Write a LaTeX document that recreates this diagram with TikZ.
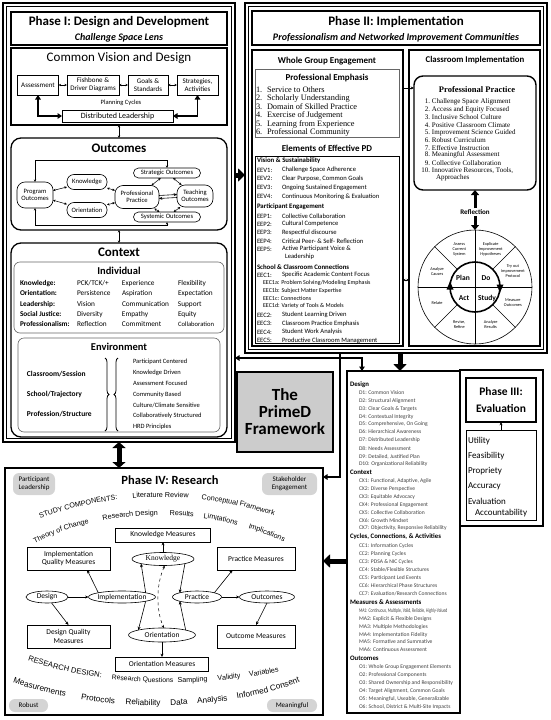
\documentclass[tikz,border=0pt]{standalone}
\usepackage{fontspec}
\setmainfont{Carlito}
\newfontfamily\tnr{Liberation Serif}
\newfontfamily\arl{Liberation Sans}
\usetikzlibrary{arrows.meta,shapes.geometric,decorations.pathreplacing,decorations.text,calc}
\newcommand\fsz[2]{\fontsize{#1}{#2}\selectfont}
\newcommand\afA{\arl\fontsize{7.2}{8}\selectfont}
\newcommand\afB{\arl\fontsize{6.8}{8}\selectfont}
\newcommand\afBb{\arl\fontsize{7.2}{8}\selectfont}
\newcommand\afBc{\arl\fontsize{7.6}{8}\selectfont}
\newcommand\afC{\arl\fontsize{8.2}{9}\selectfont}
\begin{document}
\begin{tikzpicture}[x=1pt,y=-1pt,
  every node/.style={inner sep=0pt,outer sep=0pt},
  frm/.style={draw,line width=1.3pt},
  sb/.style={draw,line width=0.6pt,align=center,font=\fsz{7}{7.8}},
  op/.style={draw,line width=0.6pt,align=center,font=\fsz{6.6}{7.4}},
  lft/.style={anchor=west},
  dbl/.style={{Stealth[length=2.6pt,width=2.4pt]}-{Stealth[length=2.6pt,width=2.4pt]},line width=0.5pt},
  sarr/.style={-{Stealth[length=3.4pt,width=3pt]},line width=0.6pt},
  tdbl/.style={{Triangle[length=4.5pt,width=5.5pt]}-{Triangle[length=4.5pt,width=5.5pt]},line width=1.4pt},
  tarr/.style={-{Triangle[length=4.5pt,width=5.5pt]},line width=1.4pt},
  big/.style={-{Triangle[length=7pt,width=13pt]},line width=5pt},
  bigd/.style={{Triangle[length=6pt,width=13pt]}-{Triangle[length=6pt,width=13pt]},line width=5pt},
  ell/.style={draw,ellipse,line width=0.6pt,font=\fsz{7.5}{8}},
  mb/.style={draw,line width=0.6pt,align=center,font=\fsz{7.5}{8.6}},
  gp/.style={fill=black!17,rounded corners=6pt,align=center,font=\fsz{7}{8.2}},
  itm/.style={anchor=west,font=\fsz{5.6}{6},text=black!75},
  hdg/.style={anchor=west,font=\bfseries\fsz{6.8}{7}},
  eitm/.style={anchor=west,font=\fsz{6.6}{7}},
  atx/.style n args={3}{decorate,decoration={text along path,text={|#1|#2},text align={left indent=#3}}},
]
\useasboundingbox (0,0) rectangle (550,720);

% ================= Phase I =================
\node[draw,line width=1.6pt,minimum width=232pt,minimum height=439pt] (p1) at (119,222.5) {};
\draw[line width=0.6pt] (6.5,6.5) rectangle (231.5,438.5);
\node[frm,minimum width=216pt,minimum height=33pt] (h1) at (119,28.5) {};
\node[font=\bfseries\fsz{13}{15}] (h1a) at (119,22) {Phase I: Design and Development};
\node[font=\bfseries\itshape\fsz{10}{12}] (h1b) at (119,38) {Challenge Space Lens};

\node[frm,minimum width=216pt,minimum height=77pt] (cv) at (119,86.5) {};
\node[font=\fsz{13}{15}] (cvt) at (119,58.5) {Common Vision and Design};
\node[sb,minimum width=41pt,minimum height=20pt] (as1) at (38,85) {Assessment};
\node[sb,minimum width=52pt,minimum height=20pt] (fb) at (93,85) {Fishbone \&\\Driver Diagrams};
\node[sb,minimum width=40pt,minimum height=20pt] (gs) at (148,85) {Goals \&\\Standards};
\node[sb,minimum width=41pt,minimum height=20pt] (sa) at (197.5,85) {Strategies,\\Activities};
\node[font=\fsz{6.5}{7}] (plc) at (121,103) {Planning Cycles};
\node[sb,font=\fsz{8}{9},minimum width=111pt,minimum height=12pt] (dl) at (117.5,116) {Distributed Leadership};

\node[frm,rounded corners=10pt,minimum width=216pt,minimum height=92pt] (oc) at (119,184) {};
\node[font=\bfseries\fsz{13}{15}] (oct) at (119,148) {Outcomes};
\node[op,rounded corners=8pt,minimum width=36pt,minimum height=26pt] (po) at (35,195) {Program\\Outcomes};
\node[op,rounded corners=7pt,minimum width=40pt,minimum height=15pt] (kn) at (87,182) {Knowledge};
\node[op,rounded corners=7pt,minimum width=40pt,minimum height=15pt] (or) at (87,210) {Orientation};
\node[op,rounded corners=8pt,minimum width=44pt,minimum height=23pt] (pp) at (137,197) {Professional\\Practice};
\node[op,rounded corners=5pt,minimum width=67pt,minimum height=10pt] (so) at (167,173) {Strategic Outcomes};
\node[op,rounded corners=8pt,minimum width=36pt,minimum height=22pt] (to) at (195,196) {Teaching\\Outcomes};
\node[op,rounded corners=5pt,minimum width=67pt,minimum height=10pt] (sy) at (167,217) {Systemic Outcomes};

\node[frm,rounded corners=10pt,minimum width=216pt,minimum height=194pt] (cx) at (119,340) {};
\node[font=\bfseries\fsz{13}{15}] (cxt) at (119,252.5) {Context};
\node[draw=black!60,line width=0.6pt,rounded corners=6pt,minimum width=210pt,minimum height=71pt] (ind) at (119,297.5) {};
\node[font=\bfseries\fsz{10.5}{12}] (indt) at (119,271) {Individual};
\node[anchor=north west,font=\fsz{7.3}{10.4}] (indtab) at (20,278) {\begin{tabular}{@{}p{57pt}@{}p{45pt}@{}p{56pt}@{}l@{}}
\textbf{Knowledge:} & PCK/TCK/+ & Experience & Flexibility\\
\textbf{Orientation:} & Persistence & Aspiration & Expectation\\
\textbf{Leadership:} & Vision & Communication & Support\\
\textbf{Social Justice:} & Diversity & Empathy & Equity\\
\textbf{Professionalism:} & Reflection & Commitment & {\fsz{6.6}{10.4}Collaboration}
\end{tabular}};
\node[draw=black!60,line width=0.6pt,rounded corners=6pt,minimum width=202pt,minimum height=94pt] (env) at (119,385) {};
\node[font=\bfseries\fsz{10.5}{12}] (envt) at (119,347) {Environment};
\node[lft,font=\bfseries\fsz{7.5}{9}] (el1) at (27,374) {Classroom/Session};
\node[lft,font=\bfseries\fsz{7.5}{9}] (el2) at (27,394) {School/Trajectory};
\node[lft,font=\bfseries\fsz{7.5}{9}] (el3) at (27,414) {Profession/Structure};
\draw[decorate,decoration={brace,amplitude=4pt},line width=0.8pt] (105,358) -- (105,431);
\draw[decorate,decoration={brace,amplitude=4pt},line width=0.8pt] (118,431) -- (118,358);
\foreach \t [count=\i] in {Participant Centered,Knowledge Driven,Assessment Focused,Community Based,Culture/Climate Sensitive,Collaboratively Structured,HRD Principles}
  \node[lft,font=\fsz{6.5}{7}] (er\i) at (133,{351.2+10.8*\i}) {\t};

% ================= Phase II =================
\node[draw,line width=1.6pt,minimum width=302pt,minimum height=350pt] (p2) at (396,178) {};
\draw[line width=0.6pt] (248.5,6.5) rectangle (543.5,349.5);
\node[frm,minimum width=288pt,minimum height=34pt] (h2) at (396,28) {};
\node[font=\bfseries\fsz{13}{15}] (h2a) at (396,22) {Phase II: Implementation};
\node[font=\bfseries\itshape\fsz{10}{12}] (h2b) at (396,37.5) {Professionalism and Networked Improvement Communities};

\node[frm,minimum width=151pt,minimum height=296pt] (wg) at (327.5,198) {};
\node[font=\bfseries\fsz{9}{10}] (wgt) at (327,61) {Whole Group Engagement};
\node[draw=black!60,line width=0.6pt,minimum width=144pt,minimum height=68pt] (pe) at (327,103) {};
\node[font=\bfseries\fsz{9}{10}] (pet) at (327,78) {Professional Emphasis};
\foreach \n/\t [count=\i] in {1/Service to Others,2/Scholarly Understanding,3/Domain of Skilled Practice,4/Exercise of Judgement,5/Learning from Experience,6/Professional Community}
  \node[lft,font=\tnr\fsz{8.3}{9}] (pe\i) at (256,{81.5+8.5*\i}) {\makebox[11pt][l]{\n.}\t};
\node[font=\bfseries\fsz{9}{10}] (epdt) at (327,148) {Elements of Effective PD};
\node[draw,line width=0.6pt,minimum width=144pt,minimum height=187pt] (epd) at (327,249.5) {};
\node[hdg] (vsh) at (257,161) {Vision \& Sustainability};
\foreach \a/\b/\yy [count=\i] in {EEV1:/Challenge Space Adherence/170,EEV2:/{Clear Purpose, Common Goals}/178.5,EEV3:/Ongoing Sustained Engagement/187.5,EEV4:/{Continuous Monitoring \& Evaluation}/196.5}{
  \node[eitm] (eva\i) at (257,\yy) {\a};
  \node[eitm] (evb\i) at (282,\yy) {\b};}
\node[hdg] (peh) at (257,207) {Participant Engagement};
\foreach \a/\b/\yy [count=\i] in {EEP1:/Collective Collaboration/216,EEP2:/Cultural Competence/224,EEP3:/Respectful discourse/232.5,EEP4:/{Critical Peer- \& Self- Reflection}/241,EEP5:/{Active Participant Voice \&}/249}{
  \node[eitm] (epa\i) at (257,\yy) {\a};
  \node[eitm] (epb\i) at (282,\yy) {\b};}
\node[eitm] (epc5) at (285,257) {Leadership};
\node[hdg] (sch) at (257,267) {School \& Classroom Connections};
\node[eitm] (eca1) at (257,275) {EEC1:};
\node[eitm] (ecb1) at (282,275) {Specific Academic Content Focus};
\foreach \t/\yy [count=\i] in {{EEC1a: Problem Solving/Modeling Emphasis}/283,{EEC1b: Subject Matter Expertise}/291,{EEC1c: Connections}/298.5,{EEC1d: Variety of Tools \& Models}/306}
  \node[lft,font=\fsz{6}{6.5}] (ecs\i) at (263,\yy) {\t};
\foreach \a/\b/\yy [count=\i] in {EEC2:/Student Learning Driven/315,EEC3:/Classroom Practice Emphasis/323.5,EEC4:/Student Work Analysis/332,EEC5:/Productive Classroom Management/340.5}{
  \node[eitm] (eda\i) at (257,\yy) {\a};
  \node[eitm] (edb\i) at (282,\yy) {\b};}

\node[frm,minimum width=131pt,minimum height=296pt] (ci) at (474.5,198) {};
\node[font=\bfseries\fsz{8.8}{10}] (cit) at (475,60) {Classroom Implementation};
\node[draw,line width=1.4pt,rounded corners=9pt,minimum width=122pt,minimum height=114pt] (ppb) at (475,133) {};
\node[font=\tnr\bfseries\fsz{8.5}{9}] (ppt) at (477,90) {Professional Practice};
\foreach \t [count=\i] in {Challenge Space Alignment,Access and Equity Focused,Inclusive School Culture,Positive Classroom Climate,Improvement Science Guided,Robust Curriculum,Effective Instruction,Meaningful Assessment,Collective Collaboration,{Innovative Resources, Tools,}}
  \node[lft,font=\tnr\fsz{7}{7.5}] (ppi\i) at (420,{94.4+7.6*\i}) {\makebox[10pt][r]{\i.}\hspace{2pt}\t};
\node[lft,font=\tnr\fsz{7}{7.5}] (ppi11) at (436,178) {Approaches};

\node[font=\bfseries\fsz{7}{8}] (refl) at (475,212) {Reflection};
\node[draw,circle,line width=0.6pt,minimum size=114pt] (cyc) at (475,287) {};
\draw[line width=0.6pt] (cyc.north) -- (cyc.south);
\draw[line width=0.6pt] (cyc.west) -- (cyc.east);
\foreach \a in {45,135,225,315}
  \draw[line width=0.6pt] ($(cyc.center)!0.44!(cyc.\a)$) -- (cyc.\a);
\node[draw,circle,line width=1.6pt,minimum size=50pt] (inn) at (475,287) {};
\fill (inn.west) ++(-3.5,2.5) -- ++(7,0) -- ++(-3.5,-8) -- cycle;
\fill (inn.east) ++(-3.5,-2.5) -- ++(7,0) -- ++(-3.5,8) -- cycle;
\node[font=\bfseries\fsz{7.5}{8}] (plan) at (463,278) {Plan};
\node[font=\bfseries\fsz{7.5}{8}] (do) at (486,278) {Do};
\node[font=\bfseries\fsz{7.5}{8}] (act) at (464,298) {Act};
\node[font=\bfseries\fsz{7.5}{8}] (study) at (487,298) {Study};
\foreach \t/\ang [count=\i] in {{Assess\\Current\\System}/112.5,{Explicate\\Improvement\\Hypotheses}/67.5,{Try out\\Improvement\\Protocol}/22.5,{Measure\\Outcomes}/-22.5,{Analyze\\Results}/-67.5,{Revise,\\Refine}/-112.5,{Relate}/-157.5,{Analyze\\Causes}/157.5}
  \node[align=center,font=\fsz{4.3}{5}] (sl\i) at ($(cyc.center)+({41*cos(\ang)},{-41*sin(\ang)})$) {\t};

% ================= PrimeD =================
\node[draw,line width=1.2pt,fill=black!20,minimum width=96pt,minimum height=80pt,align=center,font=\bfseries\fsz{17}{17}] (pd) at (285,412) {The\\PrimeD\\Framework};

% ================= Evaluation list =================
\node[draw,line width=1.2pt,minimum width=113pt,minimum height=342pt] (el) at (403.5,542) {};
\node[hdg] (hd1) at (350,385) {Design};
\foreach \t/\yy [count=\i] in {{D1: Common Vision}/393,{D2: Structural Alignment}/401,{D3: Clear Goals \& Targets}/409,{D4: Contextual Integrity}/417,{D5: Comprehensive, On Going}/424.5,{D6: Hierarchical Awareness}/432,{D7: Distributed Leadership}/440,{D8: Needs Assessment}/448.5,{D9: Detailed, Justified Plan}/456.5,{D10: Organizational Reliability}/464}
  \node[itm] (dd\i) at (359,\yy) {\t};
\node[hdg] (hd2) at (350,472) {Context};
\foreach \t/\yy [count=\i] in {{CX1: Functional, Adaptive, Agile}/481,{CX2: Diverse Perspective}/489,{CX3: Equitable Advocacy}/497,{CX4: Professional Engagement}/505,{CX5: Collective Collaboration}/513,{CX6: Growth Mindset}/521,{CX7: Objectivity, Responsive Reliability}/528.5}
  \node[itm] (cx\i) at (359,\yy) {\t};
\node[hdg] (hd3) at (350,537) {Cycles, Connections, \& Activities};
\foreach \t/\yy [count=\i] in {{CC1: Information Cycles}/546,{CC2: Planning Cycles}/554,{CC3: PDSA \& NIC Cycles}/562,{CC4: Stable/Flexible Structures}/570,{CC5: Participant Led Events}/578,{CC6: Hierarchical Phase Structures}/586,{CC7: Evaluation/Research Connections}/594}
  \node[itm] (cc\i) at (359,\yy) {\t};
\node[hdg] (hd4) at (350,602) {Measures \& Assessments};
\node[itm] (ma1) at (359,611) {\scalebox{0.68}[1]{MA1: Continuous, Multiple, Valid, Reliable, Highly-Valued}};
\foreach \t/\yy [count=\i from 2] in {{MA2: Explicit \& Flexible Designs}/619,{MA3: Multiple Methodologies}/627,{MA4: Implementation Fidelity}/634.5,{MA5: Formative and Summative}/642,{MA6: Continuous Assessment}/650}
  \node[itm] (ma\i) at (359,\yy) {\t};
\node[hdg] (hd5) at (350,658) {Outcomes};
\foreach \t/\yy [count=\i] in {{O1: Whole Group Engagement Elements}/667,{O2: Professional Components}/675,{O3: Shared Ownership and Responsibility}/683,{O4: Target Alignment, Common Goals}/691,{O5: Meaningful, Useable, Generalizable}/699,{O6: School, District \& Multi-Site Impacts}/707}
  \node[itm] (oo\i) at (359,\yy) {\t};

% ================= Phase III =================
\node[draw,line width=1.2pt,minimum width=83pt,minimum height=156pt] (p3) at (501.5,448) {};
\node[draw,line width=1.2pt,minimum width=70pt,minimum height=44pt,align=center,font=\bfseries\fsz{11.5}{17}] (p3t) at (501,400) {Phase III:\\Evaluation};
\node[draw,line width=0.8pt,minimum width=70pt,minimum height=90pt] (p3l) at (501,475) {};
\foreach \t/\yy [count=\i] in {Utility/441,Feasibility/456,Propriety/471,Accuracy/486,Evaluation/501}
  \node[lft,font=\fsz{9}{10}] (ev\i) at (468,\yy) {\t};
\node[lft,font=\fsz{9}{10}] (ev6) at (475,513) {Accountability};

% ================= Phase IV =================
\node[draw,line width=1.6pt,minimum width=318pt,minimum height=247pt] (p4) at (164,591.5) {};
\node[gp,minimum width=42pt,minimum height=22pt] (pl) at (34,484) {Participant\\Leadership};
\node[gp,minimum width=55pt,minimum height=22pt] (se) at (289.5,484) {Stakeholder\\Engagement};
\node[gp,minimum width=39pt,minimum height=13pt] (rb) at (28.5,705.5) {Robust};
\node[gp,minimum width=50pt,minimum height=13pt] (mf) at (292,705.5) {Meaningful};
\node[font=\bfseries\fsz{12.5}{14}] (p4t) at (170,480) {Phase IV: Research};

% curved study components
\path[atx={\afA}{STUDY COMPONENTS:}{0pt}] (40,518.5) .. controls (118,489.5) and (210,489.5) .. (289,521.5);
\path[atx={\afA}{Literature Review}{95pt}] (40,518.5) .. controls (118,489.5) and (210,489.5) .. (289,521.5);
\path[atx={\afA}{Conceptual Framework}{164pt}] (40,518.5) .. controls (118,489.5) and (210,489.5) .. (289,521.5);
\path[atx={\afA}{Theory of Change}{2pt}] (33,544) .. controls (110,505) and (215,505) .. (294,547);
\path[atx={\afA}{Research Design}{74pt}] (33,544) .. controls (110,505) and (215,505) .. (294,547);
\path[atx={\afA}{Results}{141pt}] (33,544) .. controls (110,505) and (215,505) .. (294,547);
\path[atx={\afA}{Limitations}{175pt}] (33,544) .. controls (110,505) and (215,505) .. (294,547);
\path[atx={\afA}{Implications}{221pt}] (33,544) .. controls (110,505) and (215,505) .. (294,547);

\node[mb,minimum width=95pt,minimum height=14pt] (km) at (163,535) {Knowledge Measures};
\node[mb,minimum width=83pt,minimum height=23pt] (iqm) at (68.5,558.5) {Implementation\\Quality Measures};
\node[mb,minimum width=78pt,minimum height=23pt] (pm) at (256,558.5) {Practice Measures};
\node[mb,minimum width=83pt,minimum height=23pt] (dqm) at (68.5,636.5) {Design Quality\\Measures};
\node[mb,minimum width=78pt,minimum height=23pt] (om) at (256,636.5) {Outcome Measures};
\node[mb,minimum width=93pt,minimum height=14pt] (orm) at (162,664) {Orientation Measures};
\node[ell,minimum width=62pt,minimum height=13pt,font=\tnr\fsz{7.5}{8}] (ekn) at (163,559) {\makebox[0pt]{Knowledge}};
\node[ell,minimum width=42pt,minimum height=12pt] (eds) at (47,597) {\makebox[0pt]{Design}};
\node[ell,minimum width=67pt,minimum height=12pt] (eim) at (122,597) {\makebox[0pt]{Implementation}};
\node[ell,minimum width=49pt,minimum height=12pt] (epr) at (197,597) {\makebox[0pt]{Practice}};
\node[ell,minimum width=55pt,minimum height=12pt] (eou) at (267,597) {\makebox[0pt]{Outcomes}};
\node[ell,minimum width=67pt,minimum height=14pt] (eor) at (162,635) {\makebox[0pt]{Orientation}};

% curved research design
\path[atx={\afBc}{RESEARCH DESIGN:}{2pt}] (26,660) .. controls (110,689) and (212,689) .. (298,667);
\path[atx={\afB}{Research Questions}{88pt}] (26,660) .. controls (110,689) and (212,689) .. (298,667);
\path[atx={\afBb}{Sampling}{154pt}] (26,660) .. controls (110,689) and (212,689) .. (298,667);
\path[atx={\afBb}{Validity}{194pt}] (26,660) .. controls (110,689) and (212,689) .. (298,667);
\path[atx={\afBb}{Variables}{226pt}] (26,660) .. controls (110,689) and (212,689) .. (298,667);
\path[atx={\afC}{Measurements}{2pt}] (11,682) .. controls (100,714) and (230,714) .. (312,677);
\path[atx={\afC}{Protocols}{72pt}] (11,682) .. controls (100,714) and (230,714) .. (312,677);
\path[atx={\afC}{Reliability}{117pt}] (11,682) .. controls (100,714) and (230,714) .. (312,677);
\path[atx={\afC}{Data}{162pt}] (11,682) .. controls (100,714) and (230,714) .. (312,677);
\path[atx={\afC}{Analysis}{189pt}] (11,682) .. controls (100,714) and (230,714) .. (312,677);
\path[atx={\afC}{Informed Consent}{229pt}] (11,682) .. controls (100,714) and (230,714) .. (312,677);

% ================= Connectors =================
\draw[dbl] (as1) -- (fb); \draw[dbl] (fb) -- (gs); \draw[dbl] (gs) -- (sa);
\draw[tdbl] (as1.south) |- (dl.west);
\draw[tdbl] (sa.south) |- (dl.east);
\draw[dbl] (cv.south) -- (oc.north);
\draw[dbl] (oc.south) -- (cx.north);
\draw[dbl] (po) -- (kn); \draw[dbl] (po) -- (or);
\draw[dbl] (kn) -- (pp); \draw[dbl] (or) -- (pp);
\draw[dbl] (pp) -- (so); \draw[dbl] (pp) -- (sy);
\draw[dbl] (so) -- (to); \draw[dbl] (sy) -- (to);
\draw[sarr] ([yshift=1.5pt]pp.east) -- ([yshift=1.5pt]to.west);
\draw[sarr] ([yshift=-1.5pt]to.west) -- ([yshift=-1.5pt]pp.east);
\draw[dbl] (so.north) -- ++(0,-8) -| (po.north);
\draw[dbl] (sy.south) -- ++(0,3) -| (po.south);

\draw[big] (p1.east |- 0,175) -- (p2.west |- 0,175);
\draw[bigd] (p1.south) -- (p1.south |- p4.north);
\draw[sarr] (wg.east |- 0,88) -- (ppb.west |- 0,88);
\draw[dbl] (wg.east |- 0,280) -- (ci.west |- 0,280);
\draw[-{Triangle[length=5pt,width=8pt]},line width=3pt] ([yshift=1.5pt]refl.north) -- (ppb.south);
\draw[-{Triangle[length=5pt,width=8pt]},line width=3pt] ([yshift=-1.5pt]refl.south) -- (cyc.north);

\coordinate (j0) at (p2.south -| 340,0);
\coordinate (j1) at (340,358);
\draw[line width=1.4pt] (j0) -- (j1);
\draw[tarr] (j1) -- (p1.east |- j1);
\draw[tarr] (j1) -| (el.north -| 362,0);
\draw[tarr] (j1) |- (p4.east |- 0,477);
\draw[big] (p2.south -| 400,0) -- (el.north -| 400,0);
\draw[big] (el.west |- 0,561) -- (p4.east |- 0,561);
\draw[sarr,line width=0.8pt] (p3l.north) -- (p3t.south);

\draw[sarr] (ekn.north) -- (km.south);
\draw[sarr] (eds) -- (eim);
\draw[sarr] (eds) -- (dqm.north);
\draw[sarr] (eim.north west) -- ($(iqm.south)!0.45!(iqm.south east)$);
\draw[sarr] (eim.north east) -- (ekn.south west);
\draw[sarr] (eim.south east) -- (eor.north west);
\draw[sarr] (ekn.south east) -- (epr.north west);
\draw[sarr] (eor.north east) -- (epr.south west);
\draw[dashed,{Stealth[length=3pt,width=2.6pt]}-{Stealth[length=3pt,width=2.6pt]},line width=0.5pt] (ekn.-75) .. controls (156,585) and (156,610) .. (eor.75);
\draw[sarr] (epr) -- (eou);
\draw[sarr] (epr.north east) -- ($(pm.south west)!0.2!(pm.south east)$);
\draw[sarr] (eou.south) -- (om.north);
\draw[sarr] (eor.south) -- (orm.north);
\end{tikzpicture}
\end{document}
